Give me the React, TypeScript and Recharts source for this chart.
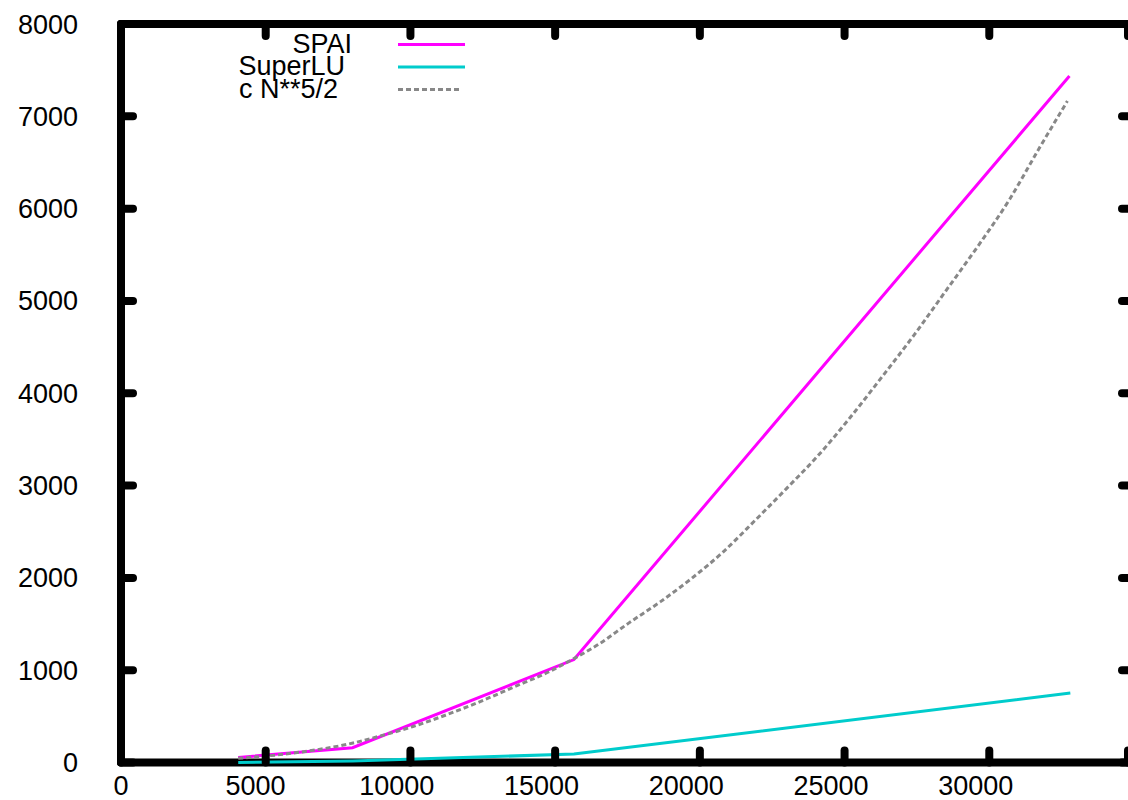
import { Legend, Line, LineChart, ReferenceArea, XAxis, YAxis } from 'recharts'

// problem size N (x) and time (y)
const spaiN = [4050, 8000, 15650, 32770]
const spaiT = [55, 160, 1115, 7437]

const superluN = [4050, 8000, 15650, 32800]
const superluT = [0, 15, 92, 753]

const fitN = [
  4050, 6190, 8020, 8950, 10090, 11270, 12410, 13550, 14730, 15620, 16500, 17540, 18630, 19700,
  20800, 21900, 23000, 24100, 25200, 26300, 27400, 28500, 29600, 30700, 31700, 32700,
]
const fitT = [
  45, 112, 211, 287, 390, 520, 660, 815, 975, 1121, 1280, 1510, 1740, 1990, 2280, 2620, 2970,
  3330, 3740, 4180, 4630, 5110, 5590, 6100, 6640, 7166,
]

const xTicks = [0, 5000, 10000, 15000, 20000, 25000, 30000, 35000]
const yTicks = [0, 1000, 2000, 3000, 4000, 5000, 6000, 7000, 8000]

const spai = spaiN.map((n, i) => ({ n, t: spaiT[i] }))
const superlu = superluN.map((n, i) => ({ n, t: superluT[i] }))
const fit = fitN.map((n, i) => ({ n, t: fitT[i] }))

const FONT = '"Liberation Sans", Arial, sans-serif'
const INK = '#000'
const TICK_LEN = 12
const LABEL_SIZE = 27

// chart box; the right border sits just past the window edge, as in the reference
const WIDTH = 1148
const HEIGHT = 800
const MARGIN = { top: 24, right: 14, bottom: 0, left: 0 }
const PLOT_TOP = MARGIN.top
const PLOT_RIGHT = WIDTH - MARGIN.right

/** Bottom axis tick: inward mark, mirrored mark on the top border, and label
 *  (gnuplot puts the labels a little left of the tick). */
function BottomTick({ x, y, payload }: any) {
  const label = String(payload.value)
  const last = payload.value === xTicks[xTicks.length - 1]
  return (
    <g>
      <line x1={x} y1={y} x2={x} y2={y - TICK_LEN} stroke={INK} strokeWidth={8} strokeLinecap="round" />
      <line x1={x} y1={PLOT_TOP} x2={x} y2={PLOT_TOP + TICK_LEN} stroke={INK} strokeWidth={8} strokeLinecap="round" />
      {!last && (
        <text
          x={x - (label.length - 1) * 3.4}
          y={y + 32}
          textAnchor="middle"
          fontFamily={FONT}
          fontSize={LABEL_SIZE}
          fill={INK}
        >
          {label}
        </text>
      )}
    </g>
  )
}

function LeftTick({ x, y, payload }: any) {
  return (
    <g>
      <line x1={x} y1={y} x2={x + TICK_LEN} y2={y} stroke={INK} strokeWidth={8} strokeLinecap="round" />
      <line x1={PLOT_RIGHT} y1={y} x2={PLOT_RIGHT - TICK_LEN} y2={y} stroke={INK} strokeWidth={8} strokeLinecap="round" />
      <text x={x - 43} y={y + 9.5} textAnchor="end" fontFamily={FONT} fontSize={LABEL_SIZE} fill={INK}>
        {payload.value}
      </text>
    </g>
  )
}

/** gnuplot-style key: right-aligned title followed by a short line sample. */
function renderKey({ payload }: any) {
  return (
    <svg width={470} height={110}>
      {(payload ?? []).map((entry: any, i: number) => {
        const cy = 43 + i * 22.5
        return (
          <g key={entry.value}>
            <text x={352 - i * 7} y={cy + 9.5} textAnchor="end" fontFamily={FONT} fontSize={LABEL_SIZE} fill={INK}>
              {entry.value}
            </text>
            <line
              x1={398}
              y1={cy + 1.5}
              x2={i === 2 ? 460 : 465}
              y2={cy + 1.5}
              stroke={entry.color}
              strokeWidth={3}
              strokeDasharray={entry.payload?.strokeDasharray}
            />
          </g>
        )
      })}
    </svg>
  )
}

export default function App() {
  return (
    <div style={{ position: 'fixed', left: 0, top: 0, width: 1128, height: 800, overflow: 'hidden', background: '#fff' }}>
      <LineChart width={WIDTH} height={HEIGHT} margin={MARGIN}>
        <XAxis
          dataKey="n"
          type="number"
          domain={[0, 35000]}
          ticks={xTicks}
          height={37.5}
          axisLine={false}
          tickLine={false}
          tickSize={0}
          tickMargin={0}
          tick={<BottomTick />}
        />
        <YAxis
          type="number"
          domain={[0, 8000]}
          ticks={yTicks}
          width={121}
          axisLine={false}
          tickLine={false}
          tickSize={0}
          tickMargin={0}
          tick={<LeftTick />}
        />
        <Line
          data={spai}
          dataKey="t"
          name="SPAI"
          stroke="#ff00ff"
          strokeWidth={3}
          dot={false}
          isAnimationActive={false}
        />
        <Line
          data={superlu}
          dataKey="t"
          name="SuperLU"
          stroke="#00cccc"
          strokeWidth={3}
          dot={false}
          isAnimationActive={false}
        />
        <Line
          data={fit}
          dataKey="t"
          name="c N**5/2"
          type="monotone"
          stroke="#888888"
          strokeWidth={3}
          strokeDasharray="5 3"
          dot={false}
          isAnimationActive={false}
        />
        {/* plot frame, drawn over the series like gnuplot's border */}
        <ReferenceArea
          x1={0}
          x2={35000}
          y1={0}
          y2={8000}
          shape={(p: any) => (
            <rect
              x={p.x}
              y={p.y}
              width={p.width}
              height={p.height}
              fill="none"
              stroke={INK}
              strokeWidth={8}
              strokeLinejoin="round"
            />
          )}
        />
        <Legend
          layout="vertical"
          align="center"
          verticalAlign="middle"
          content={renderKey}
          wrapperStyle={{ top: 0, left: 0, width: 470, height: 110 }}
        />
      </LineChart>
    </div>
  )
}
